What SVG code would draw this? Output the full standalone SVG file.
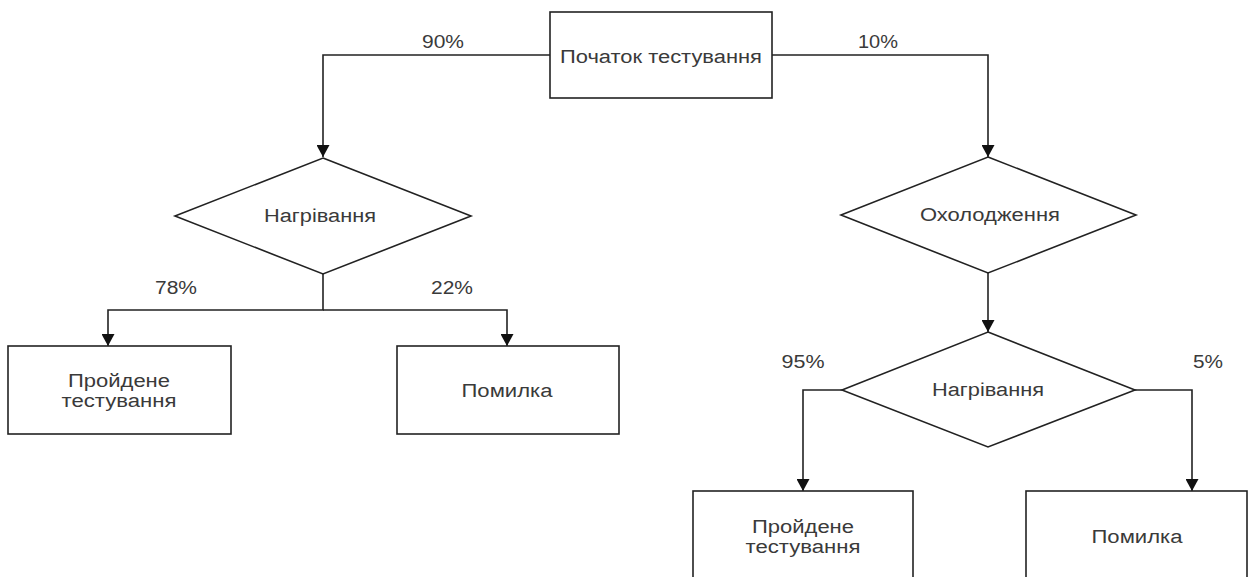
<svg xmlns="http://www.w3.org/2000/svg" width="1250" height="577" viewBox="0 0 1250 577">
<style>
.shape{fill:#fff;stroke:#222;stroke-width:1.6}
.edge{fill:none;stroke:#222;stroke-width:1.6}
text{font-family:"Liberation Sans",Arial,sans-serif;font-size:18px;fill:#3a3a3a;text-anchor:middle}
</style>
<defs>
<marker id="arr" viewBox="0 0 12 13" refX="12" refY="6.5" markerWidth="12" markerHeight="13" markerUnits="userSpaceOnUse" orient="auto">
<path d="M0,0 L12,6.5 L0,13 z" fill="#111"/>
</marker>
</defs>
<rect width="1250" height="577" fill="#fff"/>
<g id="connectors">
<path class="edge" d="M550,55 H323 V157" marker-end="url(#arr)"/>
<path class="edge" d="M772,55 H988 V157" marker-end="url(#arr)"/>
<path class="edge" d="M323,274 V310 H108 V346" marker-end="url(#arr)"/>
<path class="edge" d="M323,310 H507 V346" marker-end="url(#arr)"/>
<path class="edge" d="M988,273 V332" marker-end="url(#arr)"/>
<path class="edge" d="M842,390 H803 V491" marker-end="url(#arr)"/>
<path class="edge" d="M1135,390 H1192 V491" marker-end="url(#arr)"/>
<text x="443" y="48" textLength="42" lengthAdjust="spacingAndGlyphs">90%</text>
<text x="878" y="48" textLength="40" lengthAdjust="spacingAndGlyphs">10%</text>
<text x="176" y="294" textLength="42" lengthAdjust="spacingAndGlyphs">78%</text>
<text x="452" y="294" textLength="42" lengthAdjust="spacingAndGlyphs">22%</text>
<text x="803" y="368" textLength="43" lengthAdjust="spacingAndGlyphs">95%</text>
<text x="1208" y="368" textLength="30" lengthAdjust="spacingAndGlyphs">5%</text>
</g>
<g id="start">
<rect class="shape" x="550" y="12" width="222" height="86"/>
<text x="661" y="63" textLength="202" lengthAdjust="spacingAndGlyphs">Початок тестування</text>
</g>
<g id="heat1">
<polygon class="shape" points="323,158 471,216 323,274 175,216"/>
<text x="320" y="222" textLength="112" lengthAdjust="spacingAndGlyphs">Нагрівання</text>
</g>
<g id="pass1">
<rect class="shape" x="8" y="346" width="223" height="88"/>
<text x="119" y="387" textLength="102" lengthAdjust="spacingAndGlyphs">Пройдене</text>
<text x="119" y="407" textLength="115" lengthAdjust="spacingAndGlyphs">тестування</text>
</g>
<g id="error1">
<rect class="shape" x="397" y="346" width="222" height="88"/>
<text x="507" y="397" textLength="91" lengthAdjust="spacingAndGlyphs">Помилка</text>
</g>
<g id="cool">
<polygon class="shape" points="988,157 1136,215 988,273 841,215"/>
<text x="990" y="221" textLength="140" lengthAdjust="spacingAndGlyphs">Охолодження</text>
</g>
<g id="heat2">
<polygon class="shape" points="988,332 1135,390 988,447 842,390"/>
<text x="988" y="396" textLength="112" lengthAdjust="spacingAndGlyphs">Нагрівання</text>
</g>
<g id="pass2">
<rect class="shape" x="693" y="491" width="220" height="92"/>
<text x="803" y="533" textLength="102" lengthAdjust="spacingAndGlyphs">Пройдене</text>
<text x="803" y="553" textLength="115" lengthAdjust="spacingAndGlyphs">тестування</text>
</g>
<g id="error2">
<rect class="shape" x="1026" y="491" width="221" height="92"/>
<text x="1137" y="543" textLength="91" lengthAdjust="spacingAndGlyphs">Помилка</text>
</g>
</svg>
